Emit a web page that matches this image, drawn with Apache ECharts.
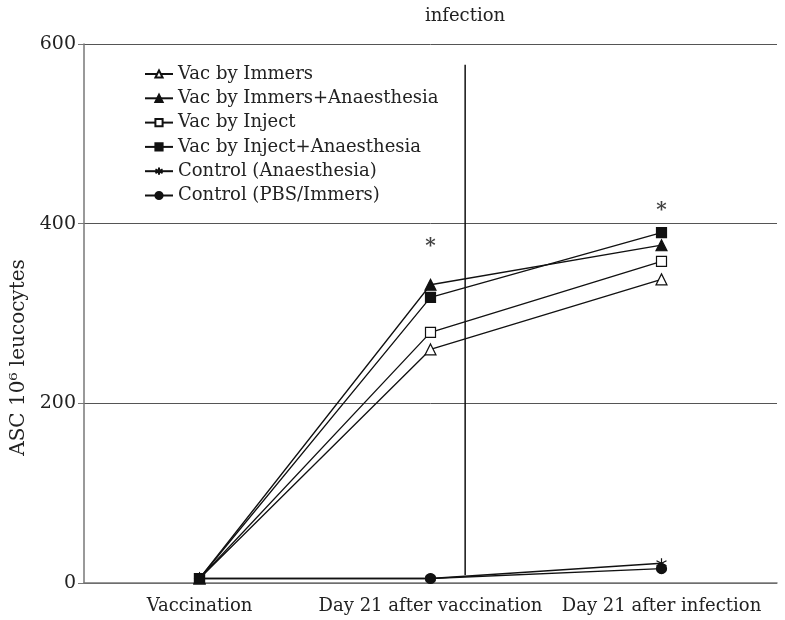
<!DOCTYPE html>
<html>
<head>
<meta charset="utf-8">
<script src="https://cdn.jsdelivr.net/npm/echarts@6/dist/echarts.min.js"></script>
<style>
  html, body { margin: 0; padding: 0; background: #fff; }
  #chart { width: 785px; height: 620px; }
</style>
</head>
<body>
<div id="chart"></div>
<script>
// data
const categories = ['Vaccination', 'Day 21 after vaccination', 'Day 21 after infection'];
const vacImmers = [5, 260, 338];
const vacImmersAnaes = [5, 332, 376];
const vacInject = [5, 279, 358];
const vacInjectAnaes = [5, 318, 390];
const ctrlAnaes = [5, 5, 22];
const ctrlPbs = [5, 5, 16];
const sigMarks = ['-', 374, 414];
const yTicks = [0, 200, 400, 600];
const infectionAt = 1.65; // in band units between categories 1 and 2
const infectionLine = [[infectionAt, 9], [infectionAt, 577]];

const font = 'DejaVu Serif';
const asterisk = 'path://M0,-5L0,5M-4.33,-2.5L4.33,2.5M-4.33,2.5L4.33,-2.5';

function lineSeries(name, data, symbol, fill, size) {
  return {
    name: name,
    type: 'line',
    data: data,
    symbol: symbol,
    symbolSize: size,
    showAllSymbol: true,
    lineStyle: { color: '#111', width: 1.3 },
    itemStyle: { color: fill, borderColor: '#111', borderWidth: 1.2 },
    z: 3
  };
}

const chart = echarts.init(document.getElementById('chart'));
chart.setOption({
  animation: false,
  textStyle: { fontFamily: font, color: '#222' },
  grid: { left: 84, right: 8, top: 44, bottom: 37 },
  graphic: [{
    type: 'text',
    x: 465, y: 7,
    style: { text: 'infection', font: '18px "DejaVu Serif"', fill: '#222', textAlign: 'center' }
  }],
  legend: {
    orient: 'vertical',
    left: 139, top: 60,
    itemWidth: 28, itemHeight: 9, itemGap: 6.3,
    textStyle: { fontFamily: font, fontSize: 18, color: '#222' },
    data: ['Vac by Immers', 'Vac by Immers+Anaesthesia', 'Vac by Inject',
      'Vac by Inject+Anaesthesia', 'Control (Anaesthesia)', 'Control (PBS/Immers)']
  },
  xAxis: [{
    type: 'category',
    data: categories,
    axisLine: { lineStyle: { color: '#777', width: 1.5 } },
    axisTick: { show: false },
    axisLabel: { fontFamily: font, fontSize: 18, color: '#222', margin: 14, interval: 0 }
  }, {
    type: 'value',
    min: 0, max: 3,
    show: false
  }],
  yAxis: {
    type: 'value',
    min: 0, max: 600, interval: 200,
    name: 'ASC 10\u2076 leucocytes',
    nameLocation: 'middle',
    nameGap: 45,
    nameTextStyle: { fontFamily: font, fontSize: 20, color: '#222', padding: [0, 88, 0, 0] },
    axisLine: { show: true, lineStyle: { color: '#777', width: 1.5 } },
    axisTick: { show: true, length: 6, lineStyle: { color: '#777' } },
    axisLabel: { fontFamily: font, fontSize: 19, color: '#222', margin: 8,
      formatter: v => yTicks.includes(v) ? String(v) : '' },
    splitLine: { lineStyle: { color: '#555', width: 1 } }
  },
  series: [
    lineSeries('Vac by Immers', vacImmers, 'triangle', '#fff', 11),
    lineSeries('Vac by Immers+Anaesthesia', vacImmersAnaes, 'triangle', '#111', 11),
    lineSeries('Vac by Inject', vacInject, 'rect', '#fff', 10),
    lineSeries('Vac by Inject+Anaesthesia', vacInjectAnaes, 'rect', '#111', 10),
    lineSeries('Control (Anaesthesia)', ctrlAnaes, asterisk, '#111', 10),
    lineSeries('Control (PBS/Immers)', ctrlPbs, 'circle', '#111', 10),
    {
      type: 'scatter',
      data: sigMarks,
      symbol: 'circle',
      symbolSize: 1,
      itemStyle: { color: 'rgba(0,0,0,0)' },
      silent: true,
      label: { show: true, position: 'inside', formatter: '*',
        fontFamily: font, fontSize: 20, fontWeight: 'bold', color: '#111' }
    },
    {
      type: 'line',
      xAxisIndex: 1,
      data: infectionLine,
      symbol: 'none',
      silent: true,
      lineStyle: { color: '#111', width: 1.5 },
      z: 1
    }
  ]
});
</script>
</body>
</html>
